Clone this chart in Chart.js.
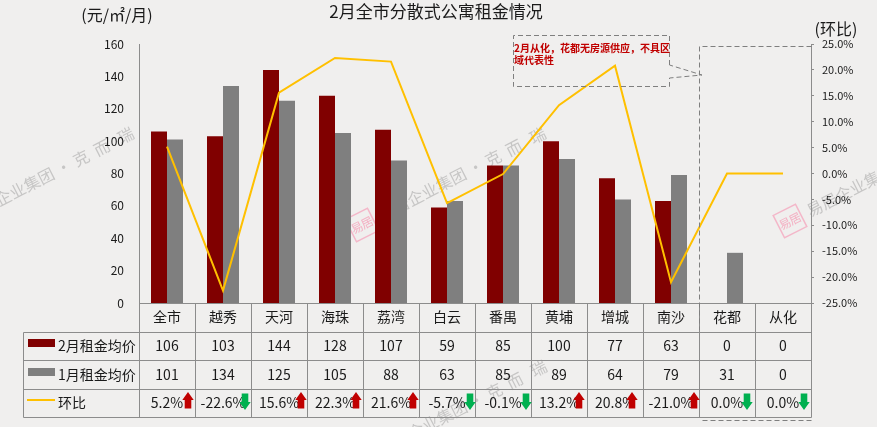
<!DOCTYPE html>
<html lang="zh">
<head>
  <meta charset="UTF-8">
  <title>2月全市分散式公寓租金情况</title>
  <script src="https://cdn.jsdelivr.net/npm/chart.js@4.4.4/dist/chart.umd.min.js"></script>
  <style>
    html, body { margin: 0; padding: 0; background: #f0efee; }
    canvas { display: block; }
  </style>
</head>
<body>
  <canvas id="rentChart" width="877" height="427"></canvas>
  <script>
    const districts = ['全市', '越秀', '天河', '海珠', '荔湾', '白云', '番禺', '黄埔', '增城', '南沙', '花都', '从化'];
    const febRent = [106, 103, 144, 128, 107, 59, 85, 100, 77, 63, 0, 0];
    const janRent = [101, 134, 125, 105, 88, 63, 85, 89, 64, 79, 31, 0];
    const momChange = [5.2, -22.6, 15.6, 22.3, 21.6, -5.7, -0.1, 13.2, 20.8, -21.0, 0.0, 0.0];
    // the source sheet's arrows do not always follow the sign
    const arrowUp = [true, false, true, true, true, false, false, true, true, true, false, false];
    const arrowShift = [21, 22, 22, 21, 22, 23, 23, 20, 17, 23, 20, 21];

    const font = '"Noto Sans CJK SC", "Noto Sans", sans-serif';
    const ink = '#1a1a1a';
    const lineGray = '#8c8c8c';
    const febColor = '#800000';
    const janColor = '#7f7f7f';
    const lineColor = '#ffc000';

    function text(ctx, str, x, y, size, align, color, weight) {
      ctx.font = (weight || 'normal') + ' ' + size + 'px ' + font;
      ctx.textAlign = align || 'center';
      ctx.textBaseline = 'middle';
      ctx.fillStyle = color || ink;
      ctx.fillText(str, x, y);
    }

    function seg(ctx, x1, y1, x2, y2) {
      ctx.beginPath();
      ctx.moveTo(x1, y1);
      ctx.lineTo(x2, y2);
      ctx.stroke();
    }

    function watermark(ctx, x, y) {
      ctx.save();
      ctx.translate(x, y);
      ctx.rotate(-27 * Math.PI / 180);
      ctx.strokeStyle = 'rgba(245,160,185,.7)';
      ctx.lineWidth = 1.5;
      ctx.strokeRect(-12.5, -12.5, 25, 25);
      ctx.font = '12px ' + font;
      ctx.textAlign = 'center';
      ctx.textBaseline = 'middle';
      ctx.fillStyle = 'rgba(245,160,185,.8)';
      ctx.fillText('易', -5.5, 0);
      ctx.fillText('居', 5.5, 0);
      ctx.font = '16px ' + font;
      ctx.textAlign = 'left';
      ctx.fillStyle = 'rgba(140,140,140,.42)';
      ctx.fillText('易居企业集团 · 克  而   瑞', 20, 0);
      ctx.restore();
    }

    function arrow(ctx, x, up) {
      const top = up ? 392 : 393.5;
      const bot = top + 16.5;
      ctx.fillStyle = up ? '#c00000' : '#00b050';
      ctx.beginPath();
      if (up) {
        ctx.moveTo(x, top);
        ctx.lineTo(x + 5.7, top + 8);
        ctx.lineTo(x + 3.3, top + 8);
        ctx.lineTo(x + 3.3, bot);
        ctx.lineTo(x - 3.3, bot);
        ctx.lineTo(x - 3.3, top + 8);
        ctx.lineTo(x - 5.7, top + 8);
      } else {
        ctx.moveTo(x, bot);
        ctx.lineTo(x + 5.7, bot - 8);
        ctx.lineTo(x + 3.3, bot - 8);
        ctx.lineTo(x + 3.3, top);
        ctx.lineTo(x - 3.3, top);
        ctx.lineTo(x - 3.3, bot - 8);
        ctx.lineTo(x - 5.7, bot - 8);
      }
      ctx.closePath();
      ctx.fill();
    }

    const backdrop = {
      id: 'backdrop',
      beforeDraw(chart) {
        const ctx = chart.ctx;
        ctx.save();
        ctx.fillStyle = '#f0efee';
        ctx.fillRect(0, 0, chart.width, chart.height);
        watermark(ctx, -50, 225);
        watermark(ctx, 362, 225);
        watermark(ctx, 790, 221);
        watermark(ctx, 363, 458);
        ctx.restore();
      }
    };

    const dataTable = {
      id: 'dataTable',
      afterDraw(chart) {
        const ctx = chart.ctx;
        const x = chart.scales.x;
        const left = chart.chartArea.left;
        const right = chart.chartArea.right;
        const tableLeft = 23.5;
        const rows = [332.5, 360.5, 389.5, 417.5];
        const rowMid = [346, 375, 403];
        const step = (right - left) / districts.length;

        ctx.save();

        // grid of the data table
        ctx.strokeStyle = lineGray;
        ctx.lineWidth = 1;
        rows.forEach(y => seg(ctx, tableLeft, y, right + 0.5, y));
        seg(ctx, tableLeft, rows[0], tableLeft, rows[3]);
        districts.forEach((d, i) => {
          const gx = Math.round(left + step * i) + 0.5;
          seg(ctx, gx, 303, gx, rows[3]);
        });
        seg(ctx, right + 0.5, 303, right + 0.5, rows[3]);

        // row keys
        ctx.fillStyle = febColor;
        ctx.fillRect(28, 339, 27, 8);
        ctx.fillStyle = janColor;
        ctx.fillRect(28, 368, 27, 8);
        ctx.strokeStyle = lineColor;
        ctx.lineWidth = 2;
        seg(ctx, 27, 400, 55, 400);
        text(ctx, '2月租金均价', 58, rowMid[0], 14, 'left');
        text(ctx, '1月租金均价', 58, rowMid[1], 14, 'left');
        text(ctx, '环比', 58, rowMid[2], 14, 'left');

        // cell values
        districts.forEach((d, i) => {
          const cx = x.getPixelForValue(i);
          text(ctx, String(febRent[i]), cx, rowMid[0], 14);
          text(ctx, String(janRent[i]), cx, rowMid[1], 14);
          text(ctx, momChange[i].toFixed(1) + '%', cx, rowMid[2], 14);
          arrow(ctx, cx + arrowShift[i], arrowUp[i]);
        });

        // title and axis units
        text(ctx, '2月全市分散式公寓租金情况', 436, 12, 17);
        text(ctx, '(元/㎡/月)', 117, 15, 16);
        text(ctx, '(环比)', 836, 29, 16);

        // dashed box around 花都 / 从化, with its callout
        ctx.strokeStyle = '#7f7f7f';
        ctx.lineWidth = 1;
        ctx.setLineDash([5, 3]);
        ctx.beginPath();
        ctx.moveTo(811.5, 46.5);
        ctx.lineTo(699.5, 46.5);
        ctx.lineTo(699.5, 330);
        ctx.moveTo(811.5, 420.5);
        ctx.lineTo(699.5, 420.5);
        ctx.stroke();
        ctx.beginPath();
        ctx.moveTo(669.5, 65);
        ctx.lineTo(669.5, 35.5);
        ctx.lineTo(513.5, 35.5);
        ctx.lineTo(513.5, 86.5);
        ctx.lineTo(669.5, 86.5);
        ctx.lineTo(669.5, 78);
        ctx.lineTo(702, 75);
        ctx.lineTo(669.5, 65);
        ctx.stroke();
        ctx.setLineDash([]);
        text(ctx, '2月从化，花都无房源供应，不具区', 514, 48, 10, 'left', '#c00000', 'bold');
        text(ctx, '域代表性', 514, 60, 10, 'left', '#c00000', 'bold');

        ctx.restore();
      }
    };

    new Chart(document.getElementById('rentChart'), {
      type: 'bar',
      data: {
        labels: districts,
        datasets: [
          { type: 'line', label: '环比', data: momChange, yAxisID: 'yRight', order: 0, borderColor: lineColor, borderWidth: 2, pointRadius: 0, tension: 0, fill: false },
          { label: '2月租金均价', data: febRent, yAxisID: 'yLeft', order: 1, backgroundColor: febColor, barThickness: 16, inflateAmount: 0 },
          { label: '1月租金均价', data: janRent, yAxisID: 'yLeft', order: 1, backgroundColor: janColor, barThickness: 16, inflateAmount: 0 }
        ]
      },
      options: {
        responsive: false,
        animation: false,
        layout: { padding: { top: 44 } },
        plugins: { legend: { display: false }, title: { display: false }, tooltip: { enabled: false } },
        scales: {
          x: {
            grid: { display: false, drawTicks: false },
            border: { color: lineGray },
            ticks: { color: ink, padding: 5, maxRotation: 0, autoSkip: false, font: { family: font, size: 14 } },
            afterFit(scale) { scale.height = 124; }
          },
          yLeft: {
            position: 'left',
            min: 0,
            max: 160,
            grid: { display: false, drawTicks: false },
            border: { color: lineGray },
            ticks: { stepSize: 20, color: ink, padding: 15, font: { family: font, size: 12 } },
            afterFit(scale) { scale.width = 139; }
          },
          yRight: {
            position: 'right',
            min: -25,
            max: 25,
            grid: { display: true, drawOnChartArea: false, tickLength: 3, color: lineGray },
            border: { color: lineGray },
            ticks: { stepSize: 5, color: ink, padding: 8, font: { family: font, size: 11 }, callback: v => v.toFixed(1) + '%' },
            afterFit(scale) { scale.width = 66; }
          }
        }
      },
      plugins: [backdrop, dataTable]
    });
  </script>
</body>
</html>
